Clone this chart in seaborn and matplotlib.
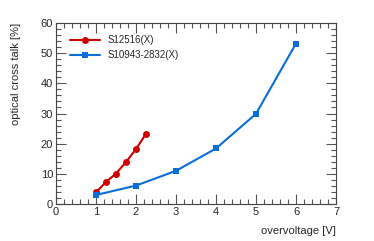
import matplotlib
matplotlib.use("Agg")
import matplotlib.pyplot as plt
import numpy as np
import pandas as pd
import seaborn as sns
from matplotlib.ticker import MultipleLocator

# data
s12516_ov = [1.0, 1.25, 1.5, 1.75, 2.0, 2.25]
s12516_ct = [3.9, 7.3, 10.1, 13.9, 18.2, 23.3]
s10943_ov = [1.0, 2.0, 3.0, 4.0, 5.0, 6.0]
s10943_ct = [3.0, 6.1, 11.0, 18.4, 29.9, 53.2]
series_names = ["S12516(X)", "S10943-2832(X)"]

df = pd.concat([
    pd.DataFrame({"ov": s12516_ov, "ct": s12516_ct, "sensor": series_names[0]}),
    pd.DataFrame({"ov": s10943_ov, "ct": s10943_ct, "sensor": series_names[1]}),
])

sns.set_style("ticks")
plt.rcParams["font.family"] = ["Liberation Sans", "DejaVu Sans"]

fig = plt.figure(figsize=(3.74, 2.41), dpi=100)
ax = fig.add_axes([56 / 374, 1 - 204 / 241, 280 / 374, 181 / 241])

palette = {series_names[0]: "#cc0000", series_names[1]: "#0a6ed8"}
markers = {series_names[0]: "o", series_names[1]: "s"}
sns.lineplot(data=df, x="ov", y="ct", hue="sensor", style="sensor",
             palette=palette, markers=markers, dashes=False,
             linewidth=1.5, markersize=5, markeredgewidth=0,
             sort=False, ax=ax)

ax.set_xlim(0, 7)
ax.set_ylim(0, 60)
ax.xaxis.set_major_locator(MultipleLocator(1))
ax.xaxis.set_minor_locator(MultipleLocator(0.2))
ax.yaxis.set_major_locator(MultipleLocator(10))
ax.yaxis.set_minor_locator(MultipleLocator(2))
ax.tick_params(which="both", direction="in", top=True, right=True,
               color="#555555", labelsize=8, pad=2)
ax.tick_params(which="major", length=7, width=0.8)
ax.tick_params(which="minor", length=3.5, width=0.8)
for sp in ax.spines.values():
    sp.set_color("#444444")
    sp.set_linewidth(0.8)

ax.set_xlabel("overvoltage [V]", fontsize=8, loc="right", labelpad=7)
ax.set_ylabel("optical cross talk [%]", fontsize=8, loc="top", labelpad=14)

leg = ax.legend(loc="upper left", frameon=False, fontsize=7,
                bbox_to_anchor=(0.02, 0.98), handlelength=3.0,
                handletextpad=0.8, labelspacing=0.5)

fig.savefig("out.png", dpi=100)
